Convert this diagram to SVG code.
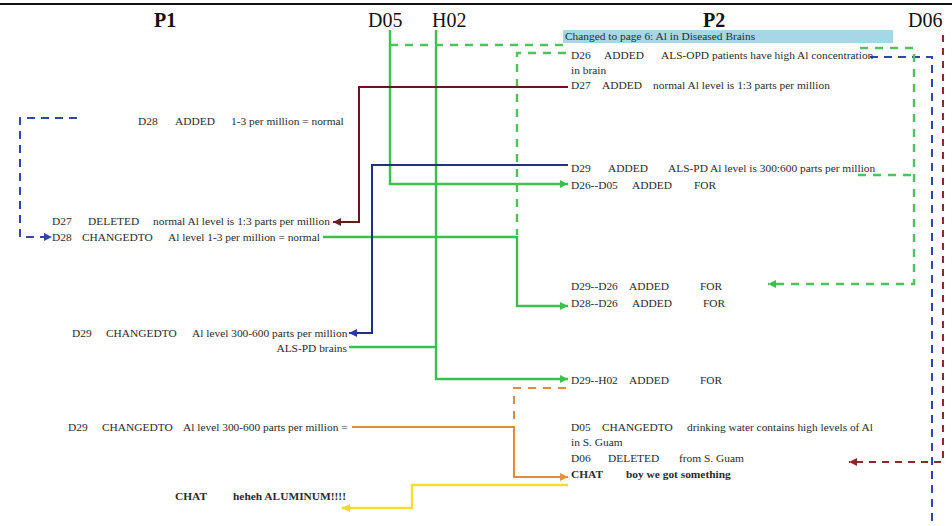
<svg xmlns="http://www.w3.org/2000/svg" width="952" height="526" viewBox="0 0 952 526">
<style>
text{font-family:"Liberation Serif","Times New Roman",serif;fill:#2b2b2b;font-size:11.4px}
.hd{font-size:20px;fill:#111}
.b{font-weight:bold}
.c{fill:none;stroke-width:2;stroke-linejoin:miter}
.g{stroke:#3cc24c;stroke-width:2.4}
.gd{stroke:#4cc45a;stroke-dasharray:8 7;stroke-width:2.4}
.br{stroke:#5e1c1c}
.nv{stroke:#23307e}
.bd{stroke:#3445a8;stroke-dasharray:8 6}
.or{stroke:#e08a3c}
.od{stroke:#e08a3c;stroke-dasharray:8 7}
.ye{stroke:#f4de2c;stroke-width:2.4}
.rd{stroke:#8a2b2b;stroke-dasharray:7 6}
</style>
<defs>
<marker id="aG" viewBox="0 0 10 10" refX="10" refY="5" markerWidth="8" markerHeight="8" markerUnits="userSpaceOnUse" orient="auto"><path d="M0,0L10,5L0,10z" fill="#3cc24c"/></marker>
<marker id="aBr" viewBox="0 0 10 10" refX="10" refY="5" markerWidth="8" markerHeight="8" markerUnits="userSpaceOnUse" orient="auto"><path d="M0,0L10,5L0,10z" fill="#6b1f1f"/></marker>
<marker id="aNv" viewBox="0 0 10 10" refX="10" refY="5" markerWidth="8" markerHeight="8" markerUnits="userSpaceOnUse" orient="auto"><path d="M0,0L10,5L0,10z" fill="#2a36a0"/></marker>
<marker id="aBd" viewBox="0 0 10 10" refX="10" refY="5" markerWidth="8" markerHeight="8" markerUnits="userSpaceOnUse" orient="auto"><path d="M0,0L10,5L0,10z" fill="#3445a8"/></marker>
<marker id="aOr" viewBox="0 0 10 10" refX="10" refY="5" markerWidth="8" markerHeight="8" markerUnits="userSpaceOnUse" orient="auto"><path d="M0,0L10,5L0,10z" fill="#e8903a"/></marker>
<marker id="aYe" viewBox="0 0 10 10" refX="10" refY="5" markerWidth="8" markerHeight="8" markerUnits="userSpaceOnUse" orient="auto"><path d="M0,0L10,5L0,10z" fill="#f0d830"/></marker>
<marker id="aRd" viewBox="0 0 10 10" refX="10" refY="5" markerWidth="8" markerHeight="8" markerUnits="userSpaceOnUse" orient="auto"><path d="M0,0L10,5L0,10z" fill="#8a2b2b"/></marker>
</defs>
<rect width="952" height="526" fill="#fff"/>
<line x1="0" y1="4" x2="952" y2="4" stroke="#111" stroke-width="2.2"/>

<g id="headers">
<text class="hd b" x="154" y="27">P1</text>
<text class="hd" x="368" y="27">D05</text>
<text class="hd" x="432" y="27">H02</text>
<text class="hd b" x="703" y="27">P2</text>
<text class="hd" x="908" y="27">D06</text>
</g>

<g id="page-banner">
<rect x="563" y="30" width="330" height="13" fill="#a6d7e6"/>
<text x="565" y="40">Changed to page 6: Al in Diseased Brains</text>
</g>

<g id="connectors">
<path class="c g" d="M390,30V184H568" marker-end="url(#aG)"/>
<path class="c g" d="M436,30V379H568" marker-end="url(#aG)"/>
<path class="c gd" d="M390,45H566"/>
<path class="c gd" d="M566,53H517V235"/>
<path class="c g" d="M323,237H517V306H568" marker-end="url(#aG)"/>
<path class="c g" d="M349,347H436"/>
<path class="c br" d="M568,87H359V222H333" marker-end="url(#aBr)"/>
<path class="c nv" d="M568,165H372V333H349" marker-end="url(#aNv)"/>
<path class="c or" d="M352,427H514V477H568" marker-end="url(#aOr)"/>
<path class="c od" d="M566,388H514V427"/>
<path class="c ye" d="M568,485H412V508H342" marker-end="url(#aYe)"/>
<path class="c bd" d="M77,118H20V237H52" marker-end="url(#aBd)"/>
<path class="c bd" d="M870,57H932V526"/>
<path class="c rd" d="M943,35V462H849" marker-end="url(#aRd)"/>
<path class="c gd" d="M860,48H914V284H768" marker-end="url(#aG)"/>
<path class="c gd" d="M858,175H914"/>
</g>

<g id="n-p1-d28-added"><text x="138" y="125">D28</text><text x="175" y="125">ADDED</text><text x="231" y="125">1-3 per million = normal</text></g>
<g id="n-p1-d27-deleted"><text x="52" y="225">D27</text><text x="88" y="225">DELETED</text><text x="153" y="225">normal Al level is 1:3 parts per million</text></g>
<g id="n-p1-d28-changed"><text x="52" y="241">D28</text><text x="82" y="241">CHANGEDTO</text><text x="168" y="241">Al level 1-3 per million = normal</text></g>
<g id="n-p1-d29-changed1"><text x="72" y="337">D29</text><text x="106" y="337">CHANGEDTO</text><text x="192" y="337">Al level 300-600 parts per million</text><text x="347" y="352" text-anchor="end">ALS-PD brains</text></g>
<g id="n-p1-d29-changed2"><text x="68" y="431">D29</text><text x="102" y="431">CHANGEDTO</text><text x="183" y="431">Al level 300-600 parts per million =</text></g>
<g id="n-p1-chat"><text class="b" x="175" y="500">CHAT</text><text class="b" x="233" y="500">heheh ALUMINUM!!!!</text></g>

<g id="n-p2-d26-added"><text x="571" y="59">D26</text><text x="604" y="59">ADDED</text><text x="661" y="59">ALS-OPD patients have high Al concentration</text><text x="571" y="74">in brain</text></g>
<g id="n-p2-d27-added"><text x="571" y="89">D27</text><text x="602" y="89">ADDED</text><text x="653" y="89">normal Al level is 1:3 parts per million</text></g>
<g id="n-p2-d29-added"><text x="571" y="172">D29</text><text x="608" y="172">ADDED</text><text x="668" y="172">ALS-PD Al level is 300:600 parts per million</text></g>
<g id="n-p2-d26-d05"><text x="571" y="189">D26--D05</text><text x="632" y="189">ADDED</text><text x="694" y="189">FOR</text></g>
<g id="n-p2-d29-d26"><text x="571" y="290">D29--D26</text><text x="629" y="290">ADDED</text><text x="700" y="290">FOR</text></g>
<g id="n-p2-d28-d26"><text x="571" y="307">D28--D26</text><text x="632" y="307">ADDED</text><text x="703" y="307">FOR</text></g>
<g id="n-p2-d29-h02"><text x="571" y="384">D29--H02</text><text x="629" y="384">ADDED</text><text x="700" y="384">FOR</text></g>
<g id="n-p2-d05-changed"><text x="571" y="431">D05</text><text x="602" y="431">CHANGEDTO</text><text x="687" y="431">drinking water contains high levels of Al</text><text x="571" y="446">in S. Guam</text></g>
<g id="n-p2-d06-deleted"><text x="571" y="462">D06</text><text x="608" y="462">DELETED</text><text x="679" y="462">from S. Guam</text></g>
<g id="n-p2-chat"><text class="b" x="571" y="478">CHAT</text><text class="b" x="626" y="478">boy we got something</text></g>
</svg>
